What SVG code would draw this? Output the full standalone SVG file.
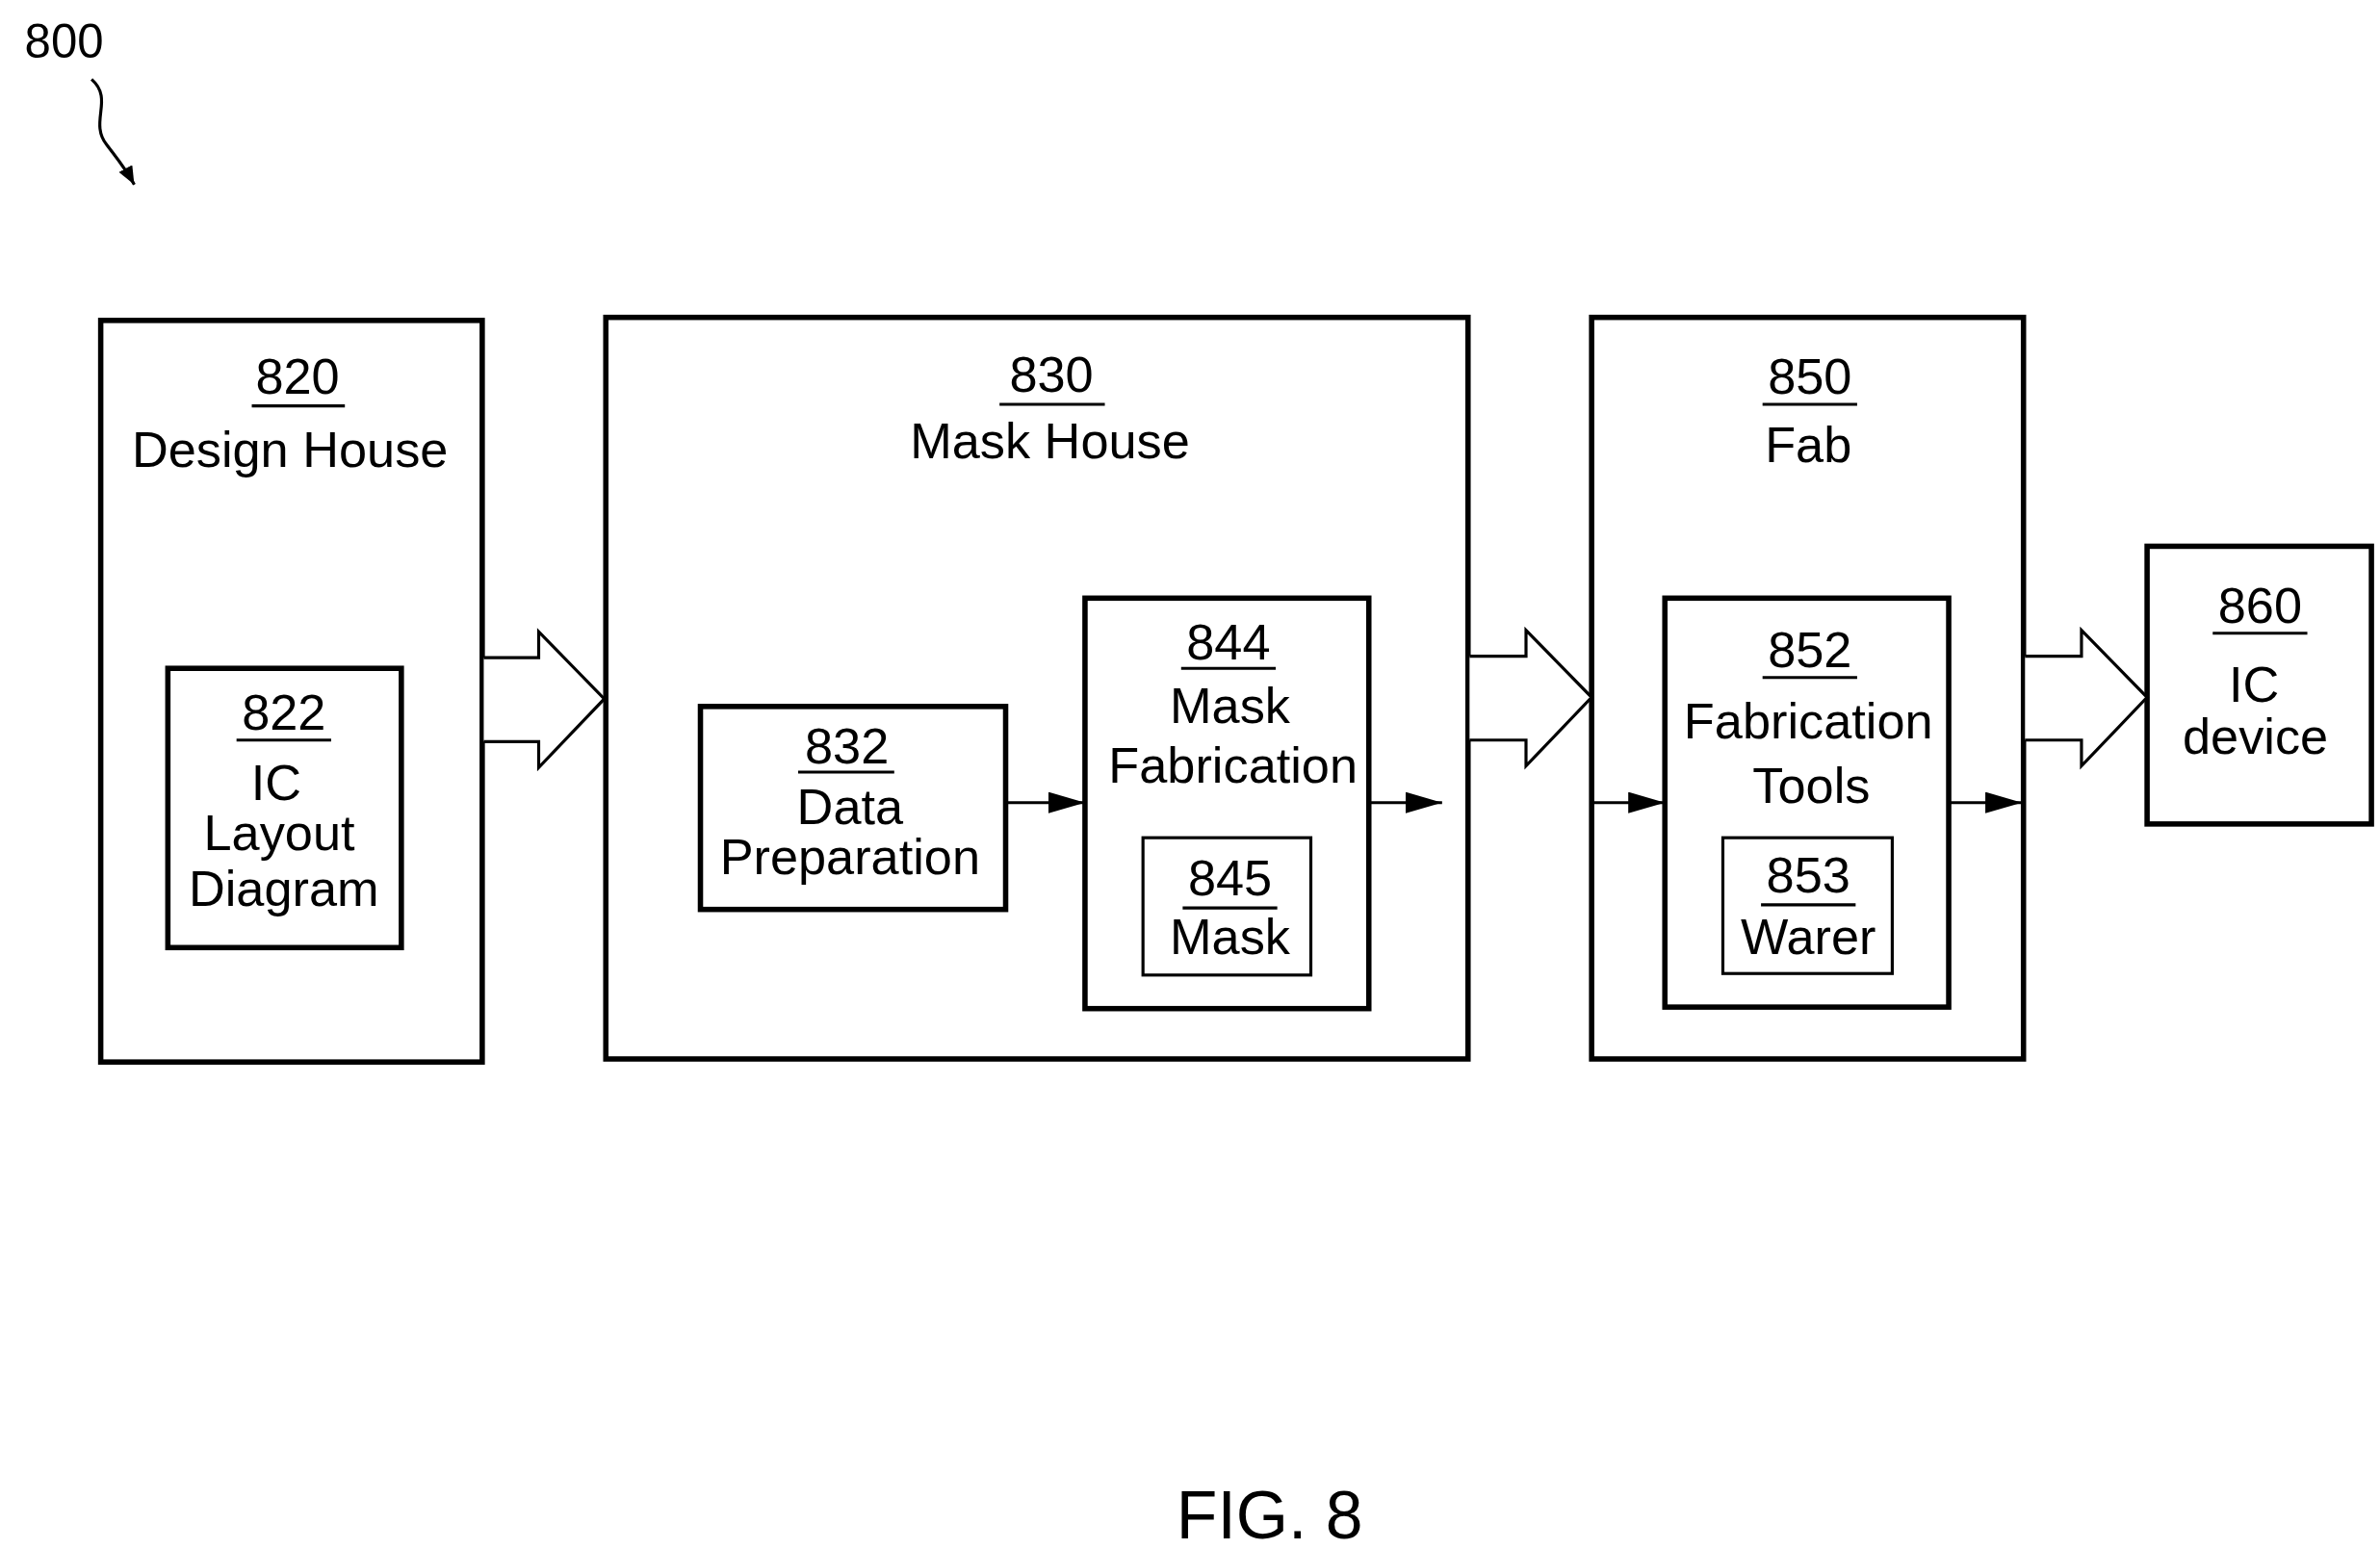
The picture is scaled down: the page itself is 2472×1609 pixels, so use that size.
<svg xmlns="http://www.w3.org/2000/svg" width="2472" height="1609" viewBox="0 0 2472 1609">
<style>
text{font-family:"Liberation Sans",Arial,sans-serif;font-size:33px;text-anchor:middle;fill:#000}
.b{fill:#fff;stroke:#000;stroke-width:3.5}
.t{fill:none;stroke:#000;stroke-width:2}
.u{stroke:#000;stroke-width:2}
.c{stroke:#000;stroke-width:2;fill:none}
.h{fill:#fff;stroke:#000;stroke-width:2}
</style>
<defs><marker id="a" markerWidth="12" markerHeight="10" refX="12" refY="5" orient="auto" markerUnits="userSpaceOnUse"><path d="M0,0L12,5L0,10z"/></marker>
<marker id="a2" markerWidth="26" markerHeight="14" refX="24" refY="7" orient="auto" markerUnits="userSpaceOnUse"><path d="M0,0L24,7L0,14z"/></marker></defs>
<rect width="2472" height="1609" fill="#fff"/>
<g transform="scale(1.585)">
<g id="label800"><text x="42" y="38" style="font-size:31px">800</text>
<path class="c" d="M60,52 C75,65 58,80 70,95 C76,103 82,110 88,121" marker-end="url(#a)"/></g>
<g id="n820"><rect class="b" x="66" y="210" width="250" height="486"/>
<text x="195" y="258">820</text><line class="u" x1="165" y1="266" x2="226" y2="266"/>
<text x="190" y="306">Design House</text></g>
<g id="n822"><rect class="b" x="110" y="438" width="153" height="183"/>
<text x="186" y="478">822</text><line class="u" x1="155" y1="485" x2="217" y2="485"/>
<text x="181" y="524">IC</text><text x="183" y="557">Layout</text><text x="186" y="594">Diagram</text></g>
<g id="n830"><rect class="b" x="397" y="208" width="565" height="486"/>
<text x="689" y="257">830</text><line class="u" x1="655" y1="265" x2="724" y2="265"/>
<text x="688" y="300">Mask House</text></g>
<g id="n832"><rect class="b" x="459" y="463" width="200" height="133"/>
<text x="555" y="500">832</text><line class="u" x1="523" y1="506" x2="586" y2="506"/>
<text x="557" y="540">Data</text><text x="557" y="573">Preparation</text></g>
<g id="n844"><text x="805" y="432">844</text><line class="u" x1="774" y1="438" x2="836" y2="438"/>
<text x="806" y="474">Mask</text><text x="808" y="513">Fabrication</text>
<rect class="b" x="711" y="392" width="186" height="269" style="fill:none"/></g>
<g id="n845"><rect class="t" x="749" y="549" width="110" height="90"/>
<text x="806" y="587">845</text><line class="u" x1="775" y1="595" x2="837" y2="595"/>
<text x="806" y="625">Mask</text></g>
<g id="n850"><rect class="b" x="1043" y="208" width="283" height="486"/>
<text x="1186" y="258">850</text><line class="u" x1="1155" y1="265" x2="1217" y2="265"/>
<text x="1185" y="303">Fab</text></g>
<g id="n852"><text x="1186" y="437">852</text><line class="u" x1="1155" y1="444" x2="1217" y2="444"/>
<text x="1185" y="484">Fabrication</text><text x="1187" y="526">Tools</text>
<rect class="b" x="1091" y="392" width="186" height="268" style="fill:none"/></g>
<g id="n853"><rect class="t" x="1129" y="549" width="111" height="89"/>
<text x="1185" y="585">853</text><line class="u" x1="1154" y1="593" x2="1216" y2="593"/>
<text x="1185" y="625">Warer</text></g>
<g id="n860"><rect class="b" x="1407" y="358" width="147" height="182"/>
<text x="1481" y="408">860</text><line class="u" x1="1450" y1="415" x2="1512" y2="415"/>
<text x="1477" y="460">IC</text><text x="1478" y="494">device</text></g>
<g id="connectors">
<path class="h" d="M317,431H353V414L396,458L353,503V486H317"/>
<path class="h" d="M963,430H1000V413L1043,457L1000,502V485H963"/>
<path class="h" d="M1327,430H1364V413L1407,457L1364,502V485H1327"/>
<line class="c" x1="660" y1="526" x2="711" y2="526" marker-end="url(#a2)"/>
<line class="c" x1="898" y1="526" x2="945" y2="526" marker-end="url(#a2)"/>
<line class="c" x1="1044" y1="526" x2="1091" y2="526" marker-end="url(#a2)"/>
<line class="c" x1="1278" y1="526" x2="1325" y2="526" marker-end="url(#a2)"/>
</g>
<text x="832" y="1008" style="font-size:44px">FIG. 8</text>
</g>
</svg>
